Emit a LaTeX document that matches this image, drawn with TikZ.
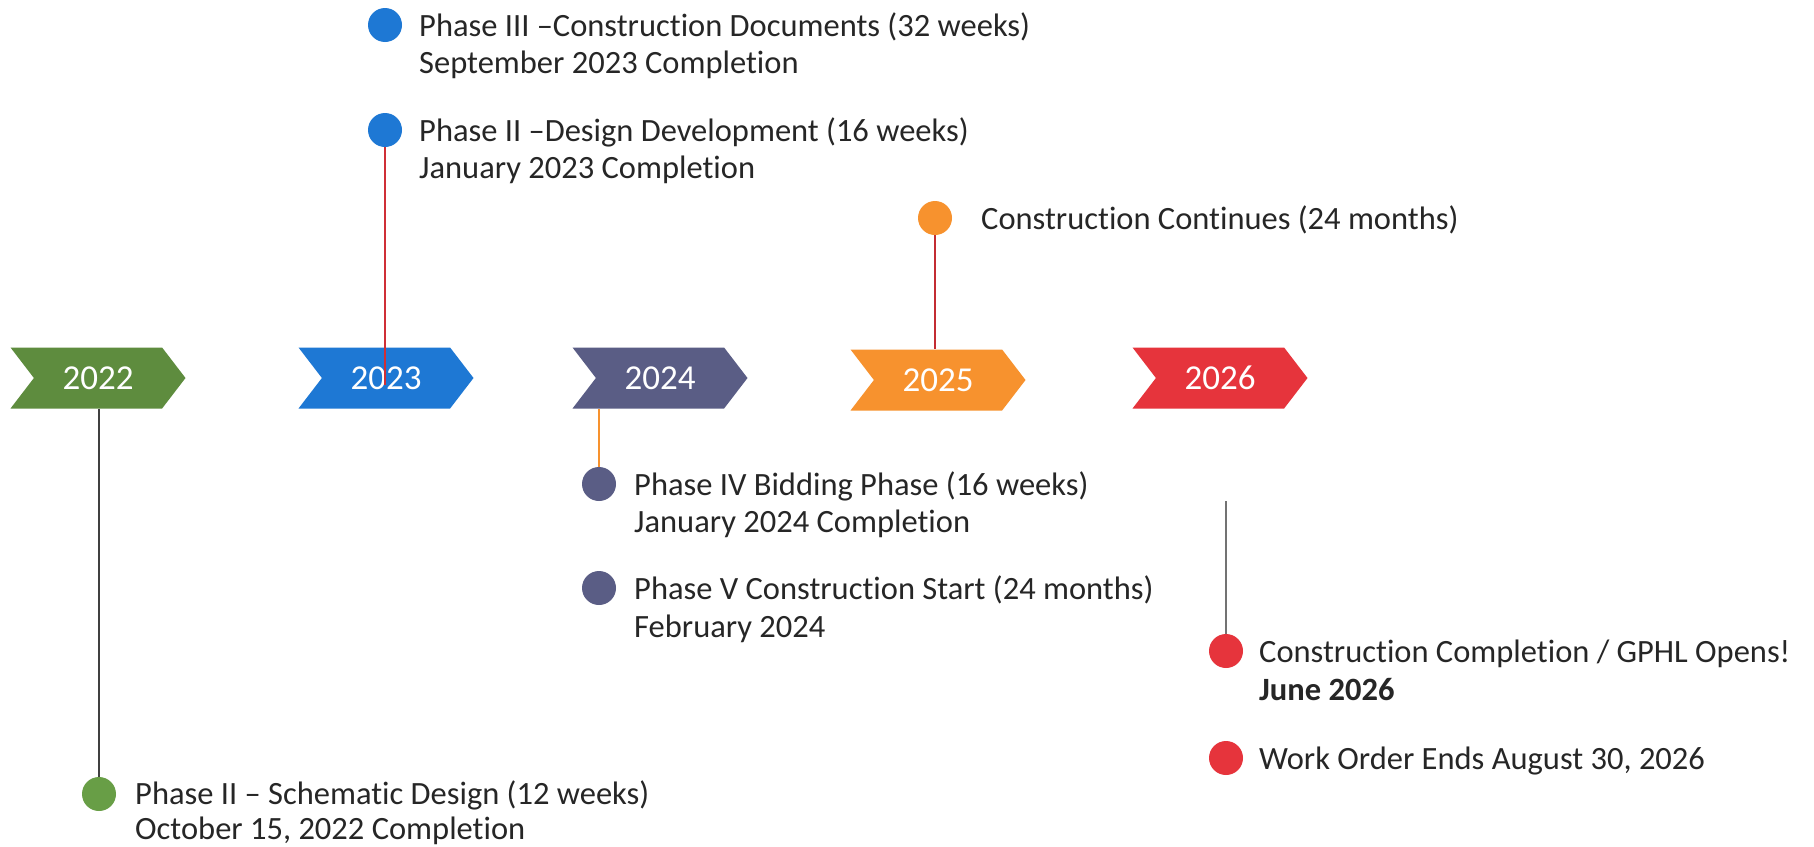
\documentclass[tikz,border=0pt]{standalone}
\usepackage{fontspec}
\setmainfont{Carlito}[Ligatures={NoCommon,NoRequired,NoContextual}]
\usetikzlibrary{shapes.symbols}
\definecolor{cgreen}{RGB}{94,140,62}
\definecolor{cblue}{RGB}{30,120,212}
\definecolor{cslate}{RGB}{90,93,133}
\definecolor{corange}{RGB}{247,146,46}
\definecolor{cred}{RGB}{230,52,60}
\definecolor{dgreen}{RGB}{104,158,70}
\definecolor{txt}{RGB}{38,38,38}
\tikzset{
  yearbox/.style={signal, signal to=east, signal from=west, signal pointer angle=105,
    minimum width=175pt, minimum height=61pt, inner sep=0pt, text=white,
    font=\fontsize{35}{40}\selectfont},
  dot/.style={circle, minimum size=34pt, inner sep=0pt},
  lbl/.style={anchor=base west, inner sep=0pt, text=txt, font=\fontsize{32.5}{38}\selectfont},
  stem/.style={line width=1.4pt}
}
\begin{document}
\begin{tikzpicture}[x=1pt,y=-1pt]
\useasboundingbox[fill=white] (0,0) rectangle (1814,846);
% year chevrons
\node[yearbox, fill=cgreen] (y22) at (98,378) {2022};
\node[yearbox, fill=cblue] (y23) at (386,378) {2023};
\node[yearbox, fill=cslate] (y24) at (660,378) {2024};
\node[yearbox, fill=corange] (y25) at (938,380) {2025};
\node[yearbox, fill=cred] (y26) at (1220,378) {2026};
% 2023
\node[dot, fill=cblue] (c3) at (385,25) {};
\node[lbl] (t3a) at (419,36) {Phase III --Construction Documents (32 weeks)};
\node[lbl] (t3b) at (419,73) {September 2023 Completion};
\node[dot, fill=cblue] (c2) at (385,130) {};
\node[lbl] (t2a) at (419,141) {Phase II --Design Development (16 weeks)};
\node[lbl] (t2b) at (419,178) {January 2023 Completion};
\coordinate (e23) at (385,385);
\draw[stem, draw=cred!90!black] (c2.south) -- (e23);
% 2025
\node[dot, fill=corange] (c5) at (935,218) {};
\node[lbl] (t5) at (981,229) {Construction Continues (24 months)};
\draw[stem, draw=cred!85!black] (c5.south) -- (c5.south |- y25.north);
% 2024
\node[dot, fill=cslate] (c4) at (599,484) {};
\node[lbl] (t4a) at (634,495) {Phase IV Bidding Phase (16 weeks)};
\node[lbl] (t4b) at (634,532) {January 2024 Completion};
\node[dot, fill=cslate] (c4b) at (599,588) {};
\node[lbl] (t4c) at (634,599) {Phase V Construction Start (24 months)};
\node[lbl] (t4d) at (634,637) {February 2024};
\draw[stem, draw=corange] (c4.north |- y24.south) -- (c4.north);
% 2022
\node[dot, fill=dgreen] (c1) at (99,794) {};
\node[lbl] (t1a) at (135,804) {Phase II -- Schematic Design (12 weeks)};
\node[lbl] (t1b) at (135,839) {October 15, 2022 Completion};
\draw[stem, draw=black!75] (c1.north |- y22.south) -- (c1.north);
% 2026
\coordinate (s26) at (1226,501);
\node[dot, fill=cred] (c6) at (1226,651) {};
\node[lbl] (t6a) at (1259,662) {Construction Completion / GPHL Opens!};
\node[lbl, font=\fontsize{32.5}{38}\selectfont\bfseries] (t6b) at (1259,700) {June 2026};
\node[dot, fill=cred] (c6b) at (1226,758) {};
\node[lbl] (t6c) at (1259,769) {Work Order Ends August 30, 2026};
\draw[stem, draw=black!55] (s26) -- (c6.north);
\end{tikzpicture}
\end{document}
